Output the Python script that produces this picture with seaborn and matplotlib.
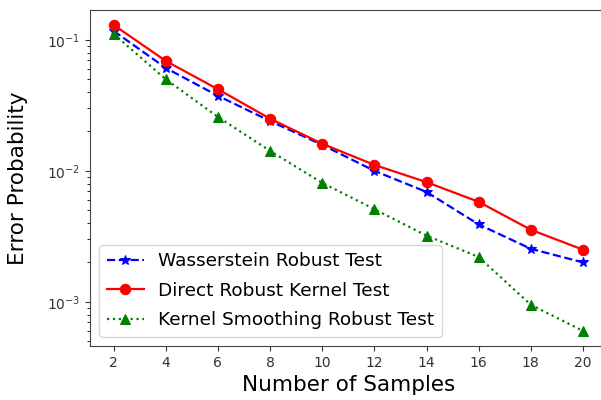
import numpy as np
import pandas as pd
import seaborn as sns
from matplotlib import pyplot as plt

samples = [2, 4, 6, 8, 10, 12, 14, 16, 18, 20]
wasserstein = [0.117, 0.061, 0.0374, 0.024, 0.0158, 0.0100, 0.0069, 0.0039, 0.00254, 0.0020]
direct_kernel = [0.130, 0.069, 0.042, 0.025, 0.0161, 0.0111, 0.0082, 0.0058, 0.00355, 0.0025]
kernel_smoothing = [0.111, 0.050, 0.0258, 0.0142, 0.0081, 0.0051, 0.0032, 0.0022, 0.00095, 0.0006]

series = [
    ("Wasserstein Robust Test", wasserstein, "blue", "*", "--"),
    ("Direct Robust Kernel Test", direct_kernel, "red", "o", "-"),
    ("Kernel Smoothing Robust Test", kernel_smoothing, "green", "^", ":"),
]

fig = plt.figure(figsize=(6.01, 4.0), dpi=100)
ax = fig.add_axes([0.15, 0.135, 0.859, 0.84])

for name, vals, color, marker, ls in series:
    df = pd.DataFrame({"n": samples, "err": vals})
    sns.lineplot(data=df, x="n", y="err", ax=ax, color=color, marker=marker,
                 linestyle=ls, markersize=7.5, markeredgecolor=color,
                 linewidth=1.6, label=name)

ax.set_yscale("log")
ax.set_xticks(samples)
ax.set_xlim(1.1, 20.9)
ax.set_ylim(4.6e-4, 0.169)
ax.set_xlabel("Number of Samples", fontsize=15.5, labelpad=4)
ax.set_ylabel("Error Probability", fontsize=15.5, labelpad=14)
ax.tick_params(labelsize=10, colors="#333333")
for sp in ax.spines.values():
    sp.set_edgecolor("#444444")
# the right edge of the frame sits outside the picture in the original
ax.spines["right"].set_visible(False)
ax.legend(loc="lower left", fontsize=13.3, labelspacing=0.62)

fig.savefig("out.png", dpi=100)
